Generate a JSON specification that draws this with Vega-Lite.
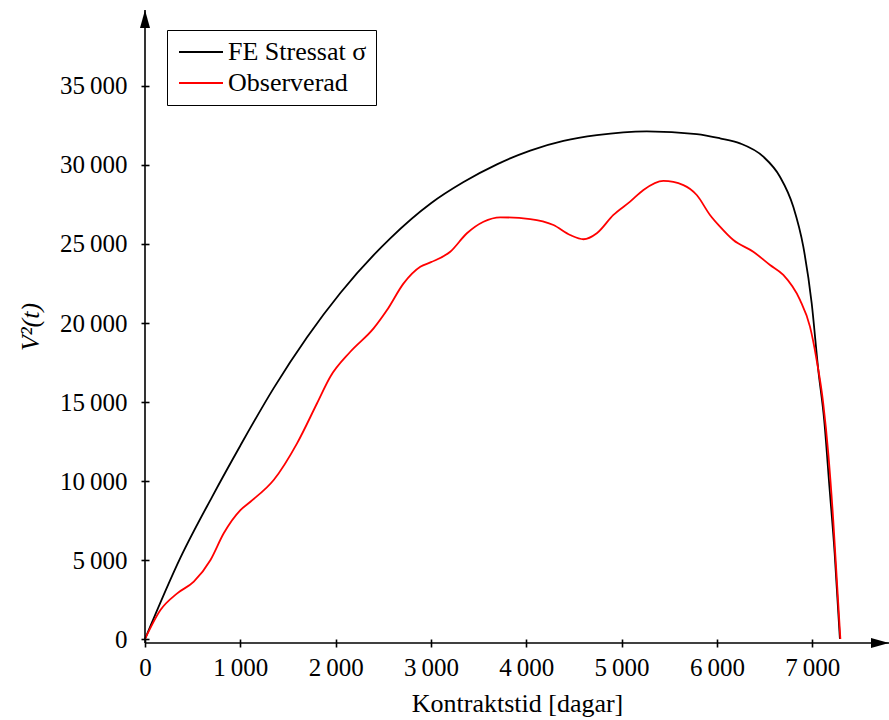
{
  "$schema": "https://vega.github.io/schema/vega-lite/v6.json",
  "width": 744,
  "height": 633,
  "autosize": "none",
  "padding": {"left": 145, "top": 10, "right": 0, "bottom": 77},
  "background": "white",
  "config": {
    "view": {"stroke": null},
    "font": "Liberation Serif"
  },
  "datasets": {
    "kurvor": [
      {"serie": "FE Stressat σ", "t": 0, "v": 0},
      {"serie": "FE Stressat σ", "t": 372, "v": 5150},
      {"serie": "FE Stressat σ", "t": 704, "v": 9000},
      {"serie": "FE Stressat σ", "t": 1001, "v": 12250},
      {"serie": "FE Stressat σ", "t": 1350, "v": 15880},
      {"serie": "FE Stressat σ", "t": 1700, "v": 19100},
      {"serie": "FE Stressat σ", "t": 2049, "v": 21900},
      {"serie": "FE Stressat σ", "t": 2573, "v": 25360},
      {"serie": "FE Stressat σ", "t": 3000, "v": 27580},
      {"serie": "FE Stressat σ", "t": 3342, "v": 28920},
      {"serie": "FE Stressat σ", "t": 3692, "v": 30040},
      {"serie": "FE Stressat σ", "t": 4041, "v": 30910},
      {"serie": "FE Stressat σ", "t": 4390, "v": 31520},
      {"serie": "FE Stressat σ", "t": 4740, "v": 31890},
      {"serie": "FE Stressat σ", "t": 5264, "v": 32130},
      {"serie": "FE Stressat σ", "t": 5788, "v": 31960},
      {"serie": "FE Stressat σ", "t": 6032, "v": 31690},
      {"serie": "FE Stressat σ", "t": 6242, "v": 31370},
      {"serie": "FE Stressat σ", "t": 6486, "v": 30530},
      {"serie": "FE Stressat σ", "t": 6661, "v": 29260},
      {"serie": "FE Stressat σ", "t": 6801, "v": 27360},
      {"serie": "FE Stressat σ", "t": 6906, "v": 24830},
      {"serie": "FE Stressat σ", "t": 6994, "v": 21250},
      {"serie": "FE Stressat σ", "t": 7063, "v": 17030},
      {"serie": "FE Stressat σ", "t": 7125, "v": 13860},
      {"serie": "FE Stressat σ", "t": 7180, "v": 9640},
      {"serie": "FE Stressat σ", "t": 7235, "v": 5420},
      {"serie": "FE Stressat σ", "t": 7290, "v": 0},
      {"serie": "Observerad", "t": 0, "v": 0},
      {"serie": "Observerad", "t": 162, "v": 1835},
      {"serie": "Observerad", "t": 338, "v": 2890},
      {"serie": "Observerad", "t": 512, "v": 3630},
      {"serie": "Observerad", "t": 687, "v": 5000},
      {"serie": "Observerad", "t": 826, "v": 6690},
      {"serie": "Observerad", "t": 1001, "v": 8160},
      {"serie": "Observerad", "t": 1106, "v": 8690},
      {"serie": "Observerad", "t": 1350, "v": 10060},
      {"serie": "Observerad", "t": 1595, "v": 12380},
      {"serie": "Observerad", "t": 1805, "v": 14920},
      {"serie": "Observerad", "t": 1944, "v": 16600},
      {"serie": "Observerad", "t": 2154, "v": 18180},
      {"serie": "Observerad", "t": 2398, "v": 19660},
      {"serie": "Observerad", "t": 2539, "v": 20820},
      {"serie": "Observerad", "t": 2713, "v": 22510},
      {"serie": "Observerad", "t": 2888, "v": 23560},
      {"serie": "Observerad", "t": 3000, "v": 23850},
      {"serie": "Observerad", "t": 3202, "v": 24510},
      {"serie": "Observerad", "t": 3377, "v": 25680},
      {"serie": "Observerad", "t": 3551, "v": 26410},
      {"serie": "Observerad", "t": 3726, "v": 26690},
      {"serie": "Observerad", "t": 4041, "v": 26580},
      {"serie": "Observerad", "t": 4285, "v": 26200},
      {"serie": "Observerad", "t": 4460, "v": 25570},
      {"serie": "Observerad", "t": 4600, "v": 25300},
      {"serie": "Observerad", "t": 4740, "v": 25680},
      {"serie": "Observerad", "t": 4914, "v": 26840},
      {"serie": "Observerad", "t": 5089, "v": 27680},
      {"serie": "Observerad", "t": 5229, "v": 28420},
      {"serie": "Observerad", "t": 5438, "v": 28990},
      {"serie": "Observerad", "t": 5648, "v": 28730},
      {"serie": "Observerad", "t": 5788, "v": 28100},
      {"serie": "Observerad", "t": 5927, "v": 26840},
      {"serie": "Observerad", "t": 6032, "v": 26100},
      {"serie": "Observerad", "t": 6172, "v": 25250},
      {"serie": "Observerad", "t": 6381, "v": 24510},
      {"serie": "Observerad", "t": 6557, "v": 23670},
      {"serie": "Observerad", "t": 6696, "v": 23040},
      {"serie": "Observerad", "t": 6871, "v": 21460},
      {"serie": "Observerad", "t": 6976, "v": 19770},
      {"serie": "Observerad", "t": 7046, "v": 17660},
      {"serie": "Observerad", "t": 7115, "v": 14920},
      {"serie": "Observerad", "t": 7168, "v": 11750},
      {"serie": "Observerad", "t": 7220, "v": 7530},
      {"serie": "Observerad", "t": 7262, "v": 3310},
      {"serie": "Observerad", "t": 7295, "v": 0}
    ]
  },
  "layer": [
    {
      "data": {"name": "kurvor"},
      "mark": {"type": "line", "interpolate": "monotone", "strokeWidth": 1.8},
      "encoding": {
        "x": {
          "field": "t",
          "type": "quantitative",
          "scale": {"domain": [0, 7805], "nice": false, "zero": false},
          "axis": {
            "values": [0, 1000, 2000, 3000, 4000, 5000, 6000, 7000],
            "title": "Kontraktstid [dagar]",
            "domain": false,
            "grid": false,
            "offset": -4,
            "tickSize": 8,
            "tickWidth": 1.6,
            "tickColor": "black",
            "labelFontSize": 25,
            "labelColor": "black",
            "labelPadding": 8,
            "labelFlush": false,
            "labelOverlap": false,
            "labelExpr": "replace(format(datum.value, ',d'), ',', '\u2009')",
            "titleFontSize": 26,
            "titleFontWeight": "normal",
            "titleColor": "black",
            "titlePadding": 10
          }
        },
        "y": {
          "field": "v",
          "type": "quantitative",
          "scale": {"domain": [-253, 39810], "nice": false, "zero": false},
          "axis": {
            "values": [0, 5000, 10000, 15000, 20000, 25000, 30000, 35000],
            "title": "V²(t)",
            "domain": false,
            "grid": false,
            "offset": -4,
            "tickSize": 8,
            "tickWidth": 1.6,
            "tickColor": "black",
            "labelFontSize": 25,
            "labelColor": "black",
            "labelPadding": 14,
            "labelFlush": false,
            "labelOverlap": false,
            "labelExpr": "replace(format(datum.value, ',d'), ',', '\u2009')",
            "titleFontSize": 26,
            "titleFontWeight": "normal",
            "titleFontStyle": "italic",
            "titleColor": "black",
            "titlePadding": 16
          }
        },
        "color": {
          "field": "serie",
          "type": "nominal",
          "scale": {"domain": ["FE Stressat σ", "Observerad"], "range": ["#000000", "#ff0000"]},
          "legend": {
            "title": null,
            "orient": "none",
            "legendX": 22,
            "legendY": 20,
            "direction": "vertical",
            "strokeColor": "black",
            "fillColor": "white",
            "padding": 9,
            "cornerRadius": 0,
            "symbolType": "M-4.4,0H4.4",
            "symbolSize": 100,
            "symbolStrokeWidth": 1.8,
            "symbolOffset": 12,
            "labelOffset": 14,
            "labelFontSize": 26,
            "labelColor": "black",
            "rowPadding": 5
          }
        }
      }
    },
    {
      "data": {"values": [{}]},
      "mark": {"type": "rule", "color": "black", "strokeWidth": 1.6},
      "encoding": {
        "x": {"datum": 0, "type": "quantitative"},
        "x2": {"datum": 7805},
        "y": {"datum": -253, "type": "quantitative"}
      }
    },
    {
      "data": {"values": [{}]},
      "mark": {"type": "rule", "color": "black", "strokeWidth": 1.6},
      "encoding": {
        "x": {"datum": 0, "type": "quantitative"},
        "y": {"datum": -253, "type": "quantitative"},
        "y2": {"datum": 39810}
      }
    },
    {
      "data": {"values": [{}]},
      "mark": {"type": "point", "shape": "M0,0L1,3.6L-1,3.6Z", "size": 100, "filled": true, "color": "black", "opacity": 1, "strokeWidth": 0},
      "encoding": {
        "x": {"datum": 0, "type": "quantitative"},
        "y": {"datum": 39810, "type": "quantitative"}
      }
    },
    {
      "data": {"values": [{}]},
      "mark": {"type": "point", "shape": "M0,0L-3.6,-1L-3.6,1Z", "size": 100, "filled": true, "color": "black", "opacity": 1, "strokeWidth": 0},
      "encoding": {
        "x": {"datum": 7805, "type": "quantitative"},
        "y": {"datum": -253, "type": "quantitative"}
      }
    }
  ]
}
